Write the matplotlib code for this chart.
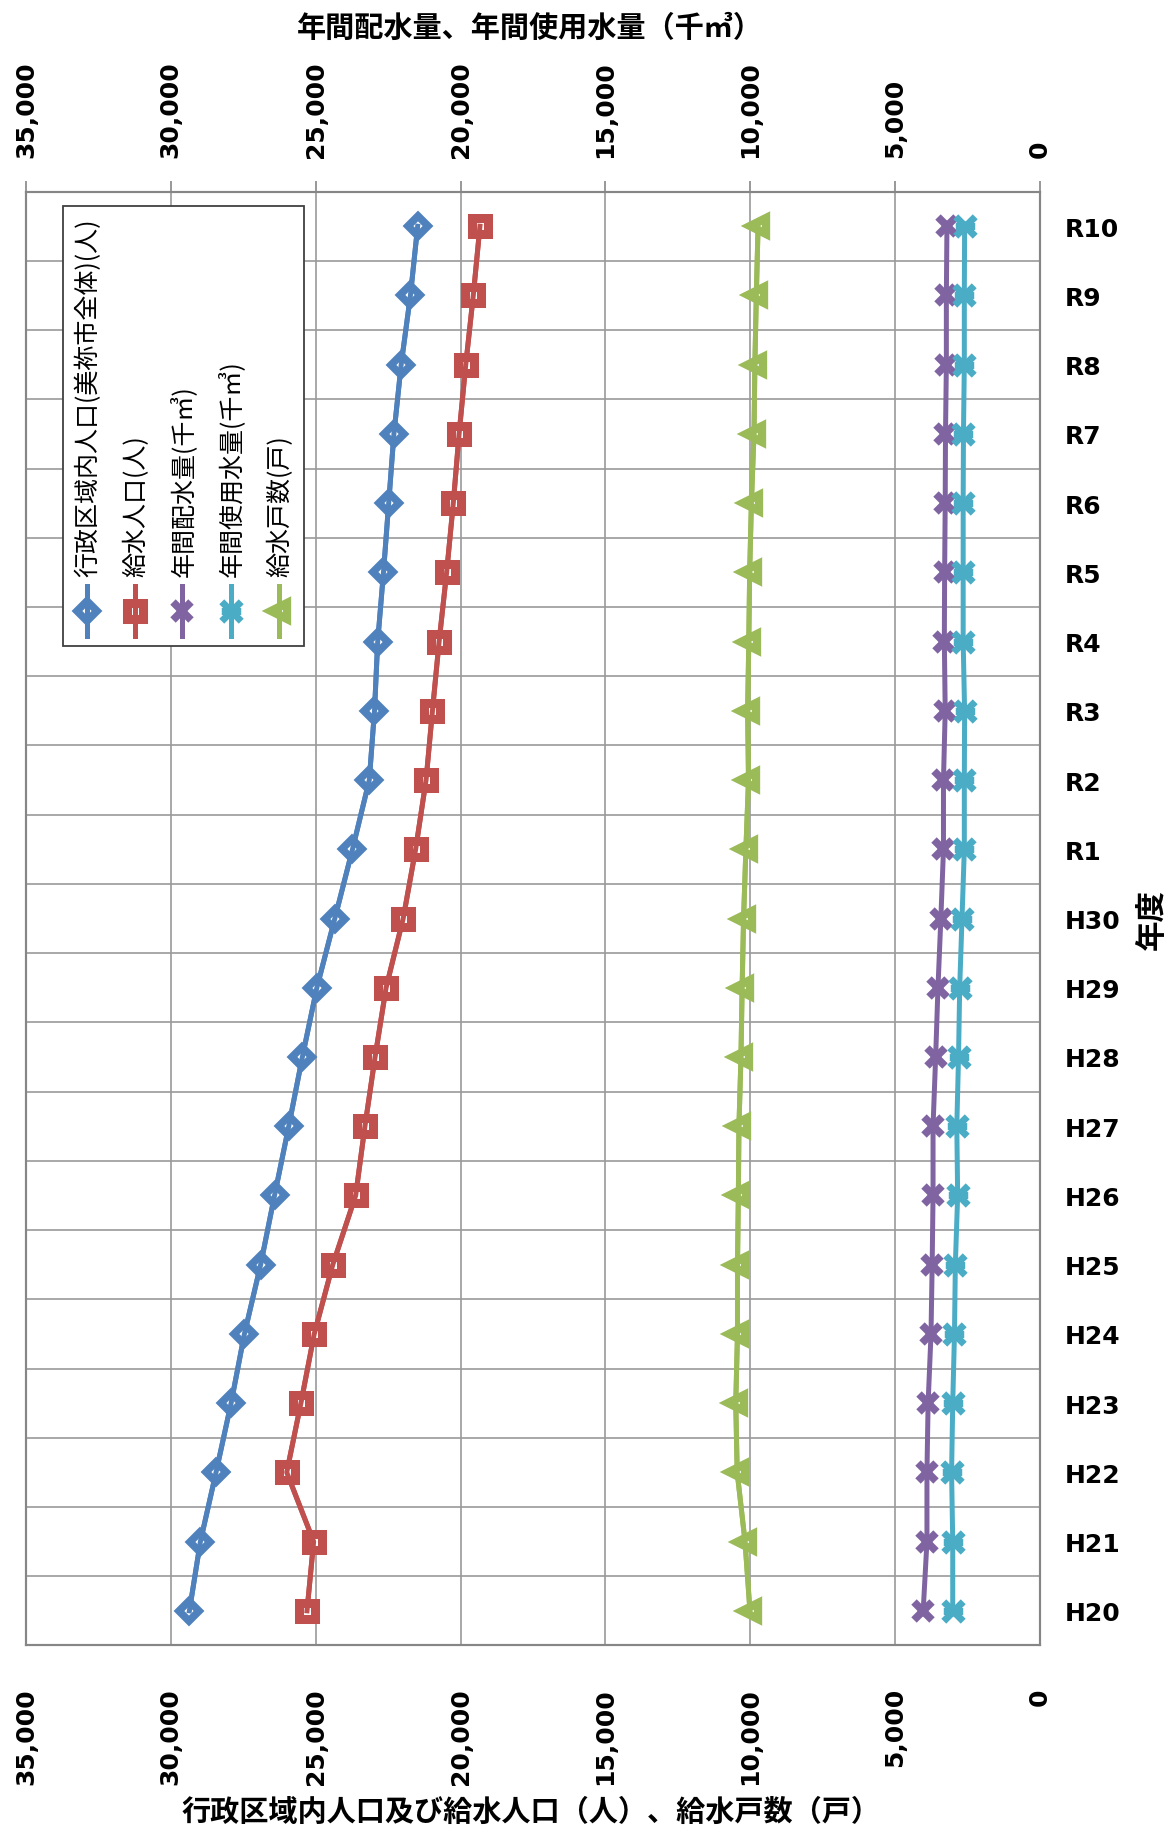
import numpy as np
import matplotlib
matplotlib.use("Agg")
import matplotlib.pyplot as plt
from matplotlib.path import Path
from matplotlib.lines import Line2D
from matplotlib.patches import Rectangle
from matplotlib.ticker import FuncFormatter

plt.rcParams['font.family'] = ['DejaVu Sans', 'Noto Sans CJK JP']
JP = ['Noto Sans CJK JP', 'DejaVu Sans']

years = ['H20', 'H21', 'H22', 'H23', 'H24', 'H25', 'H26', 'H27', 'H28', 'H29', 'H30',
         'R1', 'R2', 'R3', 'R4', 'R5', 'R6', 'R7', 'R8', 'R9', 'R10']

# 行政区域内人口(人)
pop_city = [29360, 28980, 28440, 27920, 27460, 26900, 26420, 25930, 25460, 24960, 24340,
            23730, 23150, 22970, 22860, 22660, 22480, 22300, 22050, 21730, 21480]
# 給水人口(人)
pop_served = [25300, 25070, 26000, 25510, 25050, 24410, 23620, 23300, 22950, 22570, 21980,
              21550, 21190, 20970, 20740, 20480, 20250, 20050, 19820, 19560, 19330]
# 年間配水量(千㎥)
water_dist = [4030, 3900, 3900, 3860, 3760, 3720, 3690, 3690, 3600, 3520, 3420,
              3330, 3330, 3270, 3300, 3290, 3270, 3260, 3230, 3230, 3210]
# 年間使用水量(千㎥)
water_used = [3010, 3010, 3050, 3010, 2950, 2920, 2840, 2870, 2810, 2770, 2690,
              2610, 2610, 2600, 2650, 2650, 2650, 2640, 2610, 2610, 2600]
# 給水戸数(戸)
households = [10010, 10180, 10450, 10500, 10440, 10440, 10410, 10390, 10320, 10280, 10230,
              10150, 10060, 10090, 10050, 10020, 9960, 9870, 9840, 9790, 9730]

labels = ['行政区域内人口(美祢市全体)(人)', '給水人口(人)', '年間配水量(千㎥)',
          '年間使用水量(千㎥)', '給水戸数(戸)']
colors = ['#4F81BD', '#C0504D', '#8064A2', '#4BACC6', '#9BBB59']

# asterisk-like marker: an X with a crossing bar
star = Path([(-1, -1), (1, 1), (-1, 1), (1, -1), (-1, 0), (1, 0)],
            [Path.MOVETO, Path.LINETO, Path.MOVETO, Path.LINETO, Path.MOVETO, Path.LINETO])

styles = [
    dict(marker='D', ms=10, mew=5.5, filled=True),
    dict(marker='s', ms=11.5, mew=6.5, filled=True),
    dict(marker='x', ms=12.5, mew=5.5, filled=False),
    dict(marker=star, ms=14, mew=5, filled=False),
    dict(marker='<', ms=12, mew=6, filled=True),
]

LW = 3.6
grid_c = '#9a9a9a'
frame_c = '#868686'

fig = plt.figure(figsize=(11.76, 18.31), dpi=100)
ax = fig.add_axes([0.0221, 0.1008, 0.8622, 0.7940])
ax2 = ax.twiny()

ypos = np.arange(len(years))


def draw(axis, vals, color, st, z):
    axis.plot(vals, ypos, color=color, lw=LW, marker=st['marker'], ms=st['ms'],
              mew=st['mew'], mec=color, mfc='white' if st['filled'] else color,
              zorder=z, solid_joinstyle='round')
    if st['filled']:
        axis.plot(vals, ypos, color=color, lw=LW, zorder=z + 0.05)


draw(ax, pop_city, colors[0], styles[0], 3)
draw(ax, pop_served, colors[1], styles[1], 3.2)
draw(ax, households, colors[4], styles[4], 3.4)
draw(ax2, water_dist, colors[2], styles[2], 3)
draw(ax2, water_used, colors[3], styles[3], 3.2)

xticks = np.arange(0, 35001, 5000)
fmt = FuncFormatter(lambda v, p: f'{int(v):,}')
for a in (ax, ax2):
    a.set_xlim(35000, 0)
    a.set_xticks(xticks)
    a.xaxis.set_major_formatter(fmt)
    for lbl in a.get_xticklabels():
        lbl.set_rotation(90)
        lbl.set_fontsize(18)
        lbl.set_fontweight('bold')
    for s in a.spines.values():
        s.set_color(frame_c)
        s.set_linewidth(1.5)

ax.set_ylim(-0.5, len(years) - 0.5)
ax.set_yticks(ypos)
ax.set_yticklabels(years, fontsize=18, fontweight='bold')
ax.yaxis.tick_right()
ax.set_yticks(np.arange(-0.5, len(years), 1), minor=True)
ax.tick_params(axis='y', which='both', length=0, pad=18)
ax.tick_params(axis='x', length=0, pad=30)
ax2.tick_params(axis='x', direction='out', length=8, width=1.2, color=frame_c, pad=17)

ax.grid(axis='x', which='major', color=grid_c, lw=1.2)
ax.grid(axis='y', which='minor', color=grid_c, lw=1.2)

ax.set_xlabel('行政区域内人口及び給水人口（人）、給水戸数（戸）', family=JP,
              fontsize=21, fontweight='bold')
ax.xaxis.set_label_coords(0.498, -0.1035)
ax2.set_xlabel('年間配水量、年間使用水量（千㎥）', family=JP,
               fontsize=21, fontweight='bold')
ax2.xaxis.set_label_coords(0.497, 1.107)
ax.yaxis.set_label_position('right')
ax.set_ylabel('年度', family=JP, fontsize=22, fontweight='bold', rotation=90)
ax.yaxis.set_label_coords(1.0947, 0.5)

# legend, laid out sideways to suit the rotated chart
tr = ax2.transAxes
ax2.add_artist(Rectangle((0.0365, 0.6874), 0.2377, 0.3027, transform=tr,
                         facecolor='white', edgecolor='#404040', lw=1.3,
                         zorder=10, clip_on=False))
xcols = [0.0600, 0.1075, 0.1540, 0.2020, 0.2495]
for xc, lab, col, st in zip(xcols, labels, colors, styles):
    ax2.add_artist(Line2D([xc, xc, xc], [0.6943, 0.7115, 0.7287], transform=tr,
                          color=col, lw=LW, marker=st['marker'], markevery=[1],
                          ms=st['ms'], mew=st['mew'], mec=col,
                          mfc='white' if st['filled'] else col, zorder=11))
    if st['filled']:
        ax2.add_artist(Line2D([xc, xc], [0.6943, 0.7287], transform=tr,
                              color=col, lw=LW, zorder=11.05))
    ax2.text(xc + 0.001, 0.7356, lab, transform=tr, rotation=90, ha='center',
             va='bottom', fontsize=18, family=JP, zorder=12)

fig.savefig('out.png', dpi=100)
